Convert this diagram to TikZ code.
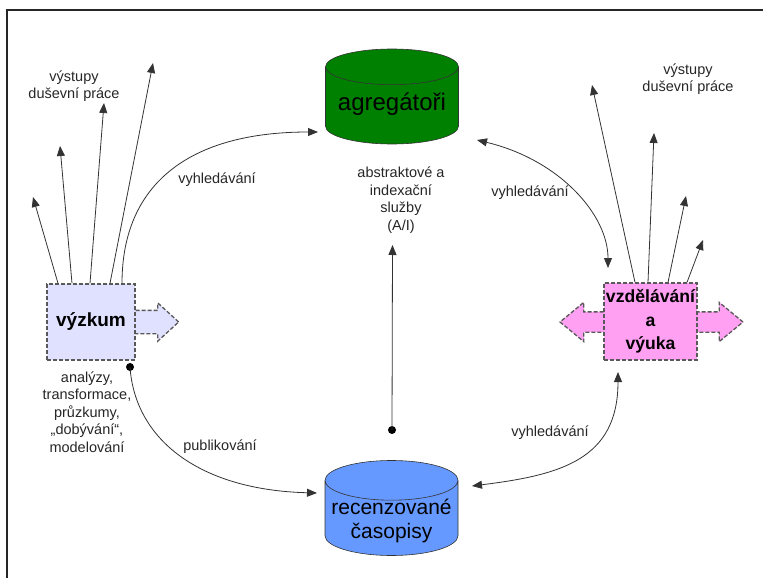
\documentclass[tikz,border=0pt]{standalone}
\usepackage{fontspec}
\setmainfont{Liberation Sans}
\usepackage{tikz}
\usepackage{xcolor}
\usetikzlibrary{positioning,calc,shapes.geometric,shapes.arrows,arrows.meta}
\definecolor{aggreen}{HTML}{008000}
\definecolor{jblue}{HTML}{6699FF}
\definecolor{reslav}{HTML}{E0E0FF}
\definecolor{edupink}{HTML}{FFA0F2}
\newcommand{\lbl}[3]{\node [lbl] (#1) at (#2) {#3}}
\newcommand{\cyltext}[2]{\raisebox{#1}[0pt][0pt]{\begin{tabular}{@{}c@{}}#2\end{tabular}}}
\tikzset{
  lbl/.style={align=center, text=black!85, font=\fontsize{14.5}{17.5}\selectfont, inner sep=0pt},
  conn/.style={draw=black!80, line width=0.8pt},
  oneway/.style={-{Triangle[length=10pt,width=8pt]}},
  twoway/.style={{Triangle[length=10pt,width=8pt]}-{Triangle[length=10pt,width=8pt]}},
  cyl/.style={cylinder, shape border rotate=90, aspect=0.33, draw=black!80, line width=0.6pt,
    minimum width=133pt, minimum height=95pt, inner sep=0pt, anchor=shape center},
  dbox/.style={draw=black!65, dash pattern=on 4pt off 2pt, line width=1.3pt, inner sep=1pt, align=center},
  dotn/.style={circle, fill=black, inner sep=0pt, minimum size=8pt}
}

\begin{document}
\begin{tikzpicture}[x=1pt,y=-1pt]
\useasboundingbox (0,0) rectangle (763,578);
\draw[line width=1.5pt, black!85] (763,10) -- (7,10) -- (7,578);

\node[cyl, fill=aggreen, font=\fontsize{24}{28}\selectfont] (agreg) at (392,96.5) {\cyltext{-6pt}{agregátoři}};
\node[cyl, fill=jblue, font=\fontsize{21}{24}\selectfont] (recenz) at (391.5,508) {\cyltext{-9pt}{recenzované\\časopisy}};

\node[single arrow, dbox, fill=reslav, inner ysep=11pt, minimum height=87pt, minimum width=37pt, single arrow head extend=7.5pt,
  single arrow tip angle=85, anchor=tail] (vyzkumarr) at (91,322) {};
\node[dbox, fill=reslav, minimum width=88pt, minimum height=76pt, font=\bfseries\fontsize{19}{23}\selectfont] (vyzkum) at (91,322) {výzkum};

\node[double arrow, dbox, fill=edupink, inner ysep=9.5pt, minimum height=183pt, minimum width=38pt, double arrow head extend=9.5pt,
  double arrow tip angle=79] (vzdelarr) at (651.5,322) {};
\node[dbox, fill=edupink, minimum width=93pt, minimum height=77pt, font=\bfseries\fontsize{17.6}{23.5}\selectfont] (vzdel) at (650.5,321.5) {vzdělávání\\a\\výuka};

\foreach \i/\dx/\tx/\ty in {1/-33/33/197, 2/-19/60/146, 3/-1/104/103, 4/19/153/63}
  {\coordinate (lout\i) at (\tx,\ty);
   \draw[conn, oneway] ([xshift=\dx pt]vyzkum.north) -- (lout\i);}
\foreach \i/\dx/\tx/\ty in {1/-15.5/592/85, 2/-2.5/654/133, 3/17.5/686/196, 4/36.5/703/240}
  {\coordinate (rout\i) at (\tx,\ty);
   \draw[conn, oneway] ([xshift=\dx pt]vzdel.north) -- (rout\i);}

\draw[conn, oneway] ([xshift=31pt]vyzkum.north) .. controls +(0,-100) and +(-128,0) .. ($(agreg.shape center)+(-74,35.5)$);
\draw[conn, twoway] ($(agreg.shape center)+(85,43.5)$) .. controls +(83,20) and +(0,-53) .. ($(vzdel)+(-42.5,-53.5)$);

\node[dotn] (pubdot) at ($(vyzkum)+(39,45)$) {};
\draw[conn, oneway] (pubdot.center) .. controls +(5,73) and +(-117,-3) .. ($(recenz.shape center)+(-74.5,-15)$);
\draw[conn, twoway] ($(recenz.shape center)+(80.5,-22)$) .. controls +(88,-11) and +(0,88) .. ($(vzdel)+(-32.5,50.5)$);

\node[dotn] (aidot) at ($(recenz.shape center)+(0.5,-78)$) {};
\draw[conn, oneway] (aidot.center) -- ($(agreg.shape center)+(0.5,148.5)$);

\lbl{vyhlL}{217,180}{vyhledávání};
\lbl{vyhlR}{530,193}{vyhledávání};
\lbl{vyhlB}{550,433}{vyhledávání};
\lbl{publ}{220,447}{publikování};
\lbl{ai}{401,200}{abstraktové a\\indexační\\služby\\(A/I)};
\lbl{outL}{74,86}{výstupy\\duševní práce};
\lbl{outR}{688,79}{výstupy\\duševní práce};
\lbl{metody}{87,412}{analýzy,\\transformace,\\průzkumy,\\„dobývání“,\\modelování};

\end{tikzpicture}
\end{document}
